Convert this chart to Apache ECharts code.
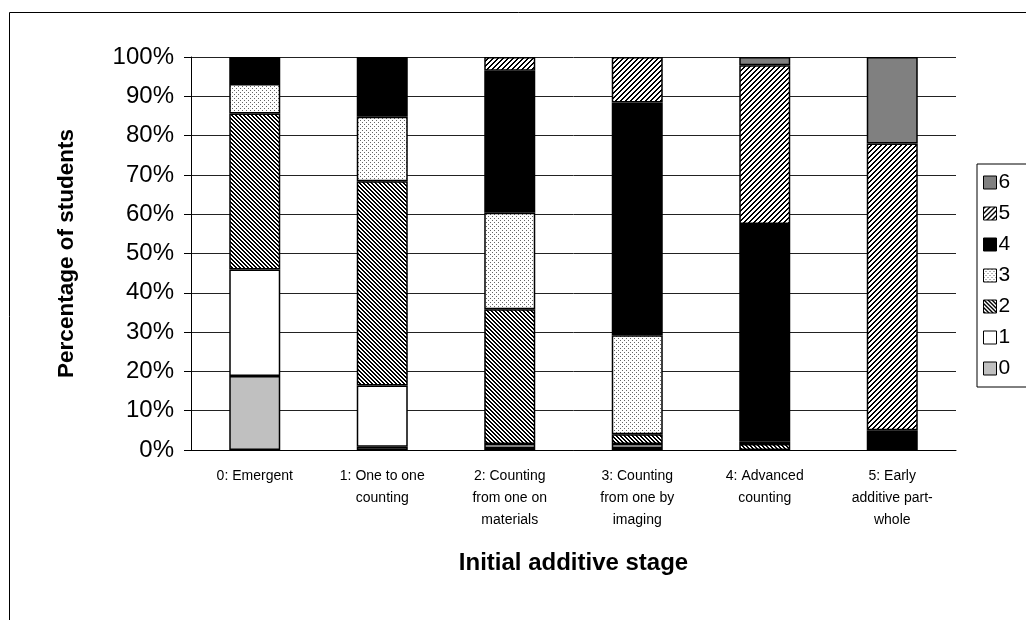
<!DOCTYPE html>
<html>
<head>
<meta charset="utf-8">
<script src="https://cdn.jsdelivr.net/npm/echarts@6/dist/echarts.min.js"></script>
<style>
  html, body { margin: 0; padding: 0; background: #fff; }
  #chart { width: 1026px; height: 620px; }
</style>
</head>
<body>
<div id="chart"></div>
<script>
// Initial additive stage categories
const categories = [
  '0: Emergent',
  '1: One to one\ncounting',
  '2: Counting\nfrom one on\nmaterials',
  '3: Counting\nfrom one by\nimaging',
  '4: Advanced\ncounting',
  '5: Early\nadditive part-\nwhole'
];

// Percentage of students reaching each later stage (0..6)
const level0 = [18.8, 0.8, 0.5, 0.5, 0, 0];
const level1 = [27.1, 15.6, 1.0, 1.0, 0, 0];
const level2 = [39.7, 52.0, 34.3, 2.5, 1.5, 0];
const level3 = [7.5, 16.4, 24.6, 25.2, 0.7, 0];
const level4 = [6.9, 15.2, 36.1, 59.2, 55.3, 5.0];
const level5 = [0, 0, 3.5, 11.6, 40.4, 73.0];
const level6 = [0, 0, 0, 0, 2.1, 22.0];

const levelNames = ['0', '1', '2', '3', '4', '5', '6'];
const levels = [level0, level1, level2, level3, level4, level5, level6];

const FONT = '"Liberation Sans", Arial, sans-serif';

// Small repeating fill textures
function makeTile(size, paint) {
  const c = document.createElement('canvas');
  c.width = size; c.height = size;
  const ctx = c.getContext('2d');
  ctx.fillStyle = '#fff';
  ctx.fillRect(0, 0, size, size);
  paint(ctx, size);
  return { image: c, repeat: 'repeat' };
}

// dense "\\\" hatch
const hatchBack = makeTile(4, (ctx, s) => {
  ctx.fillStyle = '#000';
  for (let y = 0; y < s; y++) for (let x = 0; x < s; x++) {
    const k = ((x - y) % s + s) % s;
    if (k === 0 || k === 1) ctx.fillRect(x, y, 1, 1);
  }
});
// lighter "///" hatch
const hatchFwd = makeTile(5, (ctx, s) => {
  ctx.fillStyle = '#000';
  for (let y = 0; y < s; y++) for (let x = 0; x < s; x++) {
    const k = (x + y) % s;
    if (k === 0 || k === 1) ctx.fillRect(x, y, 1, 1);
  }
});
// sparse dots
const dots = makeTile(4, (ctx) => {
  ctx.fillStyle = '#666';
  ctx.fillRect(0, 0, 1, 1);
  ctx.fillRect(2, 2, 1, 1);
});

const fills = ['#c0c0c0', '#ffffff', hatchBack, dots, '#000000', hatchFwd, '#808080'];

const series = levels.map((vals, i) => ({
  name: levelNames[i],
  type: 'bar',
  stack: 'total',
  barCategoryGap: '60%',
  itemStyle: { color: fills[i], borderColor: '#000', borderWidth: 1.5 },
  emphasis: { disabled: true },
  data: vals.map(v => (v === 0 ? '-' : v))
}));

const chart = echarts.init(document.getElementById('chart'), null, { renderer: 'canvas' });
chart.setOption({
  animation: false,
  backgroundColor: '#fff',
  textStyle: { fontFamily: FONT },
  graphic: [{
    type: 'rect',
    silent: true,
    shape: { x: 9.5, y: 12.5, width: 1200, height: 800 },
    style: { fill: 'none', stroke: '#000', lineWidth: 1 }
  }],
  grid: { left: 191, right: 70, top: 57, bottom: 170, containLabel: false },
  legend: {
    data: levelNames.slice().reverse(),
    orient: 'vertical',
    left: 977,
    top: 164,
    itemWidth: 13,
    itemHeight: 13,
    itemGap: 10,
    padding: [8, 40, 8, 6],
    borderColor: '#000',
    borderWidth: 1,
    icon: 'rect',
    itemStyle: { borderColor: '#000', borderWidth: 1 },
    textStyle: { fontFamily: FONT, fontSize: 21, color: '#000', padding: [0, 0, 0, -3] }
  },
  xAxis: {
    type: 'category',
    data: categories,
    name: 'Initial additive stage',
    nameLocation: 'middle',
    nameGap: 101,
    nameTextStyle: { fontFamily: FONT, fontSize: 24, fontWeight: 'bold', color: '#000' },
    axisLine: { lineStyle: { color: '#000', width: 1 } },
    axisTick: { show: false },
    axisLabel: { fontFamily: FONT, fontSize: 14, color: '#000', lineHeight: 22, margin: 15, interval: 0 }
  },
  yAxis: {
    type: 'value',
    min: 0,
    max: 100,
    interval: 10,
    name: 'Percentage of students',
    nameLocation: 'middle',
    nameGap: 113,
    nameTextStyle: { fontFamily: FONT, fontSize: 22.5, fontWeight: 'bold', color: '#000' },
    axisLine: { show: true, lineStyle: { color: '#000', width: 1 } },
    axisTick: { show: true, length: 7, lineStyle: { color: '#000' } },
    axisLabel: { fontFamily: FONT, fontSize: 24, color: '#000', margin: 17, formatter: '{value}%' },
    splitLine: { show: true, lineStyle: { color: '#222', width: 1 } }
  },
  series: series
});
</script>
</body>
</html>
